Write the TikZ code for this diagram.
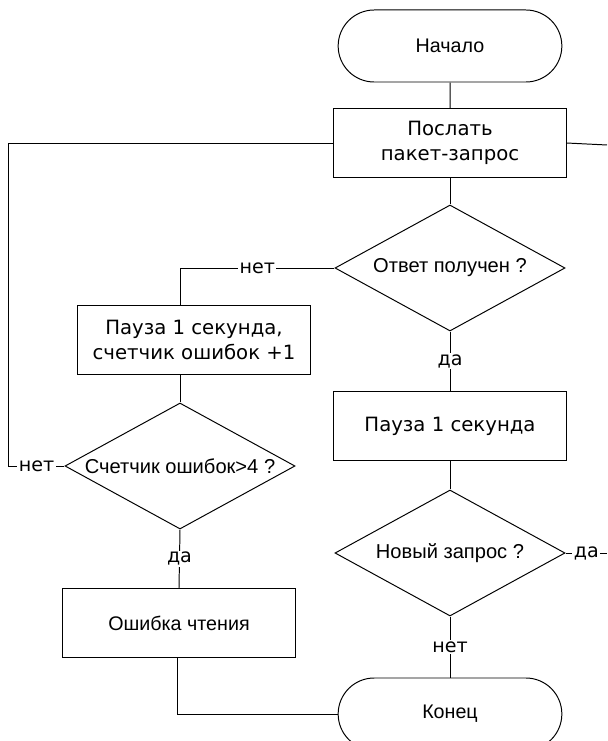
\documentclass[tikz,border=0pt]{standalone}
\usepackage{fontspec}
\setmainfont{DejaVu Sans}
\newfontfamily\arialfont{Liberation Sans}
\usetikzlibrary{shapes.geometric,shapes.misc}
\tikzset{termstyle/.style = {rounded rectangle, draw, line width = 0.7pt, minimum width = 5.825cm, minimum height = 1.8cm, font = \arialfont\fontsize{14}{17}\selectfont},
	procstyle/.style = {rectangle, draw, line width = 0.7pt, minimum width = 5.8cm, minimum height = 1.725cm, align = center, font = \fontsize{14}{17.8}\selectfont},
	decstyle/.style = {diamond, draw, line width = 0.7pt, aspect = 1.8, inner sep = 0pt, minimum width = 5.75cm, minimum height = 3.15cm, font = \arialfont\fontsize{14.3}{16}\selectfont},
	link/.style = {line width = 0.7pt},
	lbl/.style = {fill = white, inner sep = 1pt, font = \fontsize{13.6}{16}\selectfont}}

\begin{document}
\begin{tikzpicture}[x = 0.025cm, y = -0.025cm]
 \useasboundingbox (0,0) rectangle (607,741);

 \node (start) at (450,46) [termstyle] {Начало};
 \node (send) at (450,143) [procstyle] {Послать\\пакет-запрос}
  edge [link] (start);
 \node (answer) at (450,268) [decstyle] {Ответ получен ?}
  edge [link] (send);
 \node (pause2) at (194,340) [procstyle] {Пауза 1 секунда,\\счетчик ошибок +1};
 \node (count) at (180,466) [decstyle] {Счетчик ошибок>4 ?};
 \node (pause1) at (450,426) [procstyle] {Пауза 1 секунда};
 \node (newreq) at (450,553) [decstyle] {Новый запрос ?}
  edge [link] (pause1);
 \node (error) at (179,623) [procstyle, font = \arialfont\fontsize{14}{17}\selectfont] {Ошибка чтения};
 \node (stop) at (450,714) [termstyle] {Конец};

 \coordinate (sendout) at (607,145);
 \coordinate (newout) at (607,553);

 \draw [link] (answer.south) -- node [lbl] {да} (pause1.north);
 \draw [link] (answer.west) -| node [lbl, pos = 0.25] {нет} (count.north |- pause2.north);
 \draw [link] (count.north |- pause2.south) -- (count.north);
 \draw [link] (count.west) -- node [lbl] {нет} ++(-56,0) |- (send.west);
 \draw [link] (count.south) -- node [lbl] {да} (error.north);
 \draw [link] ([xshift = -0.05cm]error.south) |- (stop.west);
 \draw [link] (newreq.south) -- node [lbl] {нет} (stop.north);
 \draw [link] (newreq.east) -- node [lbl] {да} (newout);
 \draw [link] (send.east) -- (sendout);

\end{tikzpicture}
\end{document}
